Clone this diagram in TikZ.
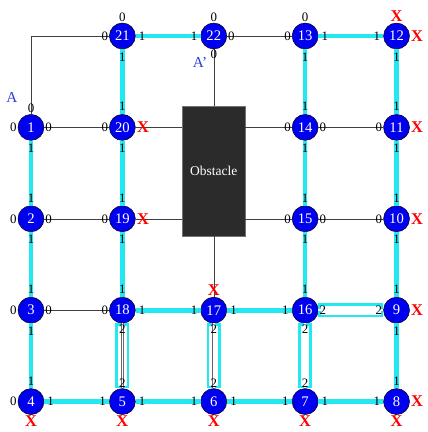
\documentclass[tikz,border=0pt]{standalone}
\usepackage{fontspec}
\setmainfont{Liberation Serif}
\usetikzlibrary{positioning}
\definecolor{nodeblue}{HTML}{0000F0}
\definecolor{pathcyan}{HTML}{22E8F2}
\definecolor{obsgray}{HTML}{2B2B2B}
\definecolor{tagblue}{HTML}{2A3BD6}
\tikzset{
  gridnode/.style={circle,draw=black,fill=nodeblue,text=white,minimum size=7.8mm,inner sep=0pt,font=\fontsize{12.5}{13}\selectfont},
  obsbox/.style={draw=black!55,fill=obsgray,text=white,minimum width=18.9mm,minimum height=39mm,font=\fontsize{11.5}{13}\selectfont},
  plainedge/.style={draw=black!75,thin},
  pathedge/.style={draw=pathcyan,line width=1.4mm},
  dbledge/.style={preaction={draw=pathcyan,line width=4.2mm},
    preaction={draw=white,line width=2.6mm,shorten <=0.8mm,shorten >=0.8mm},
    draw=black!60,double=white,double distance=0.5mm,thin},
  wt/.style={font=\fontsize{11}{12}\selectfont,inner sep=0.8pt},
  lblR/.style={wt,anchor=west},
  lblL/.style={wt,anchor=east},
  lblB/.style={wt,anchor=north},
  lblT/.style={wt,anchor=south},
  xlbl/.style={text=red,font=\fontsize{14}{15}\selectfont\bfseries,inner sep=1pt},
  tag/.style={text=tagblue,font=\fontsize{13}{14}\selectfont},
}
\begin{document}
\begin{tikzpicture}[x=2.742cm,y=-2.742cm]
  \useasboundingbox (-0.339,-0.394) rectangle (4.344,4.333);
  % grid nodes
  \node[gridnode,label={[wt]above:0}] (n21) at (1,0) {21};
  \node[gridnode,label={[wt]above:0}] (n22) at (2,0) {22};
  \node[gridnode,label={[wt]above:0}] (n13) at (3,0) {13};
  \node[gridnode,label={[xlbl]above:X},label={[xlbl]right:X}] (n12) at (4,0) {12};
  \node[gridnode,label={[wt]left:0}] (n1) at (0,1) {1};
  \node[gridnode] (n20) at (1,1) {20};
  \node[gridnode] (n14) at (3,1) {14};
  \node[gridnode,label={[xlbl]right:X}] (n11) at (4,1) {11};
  \node[gridnode,label={[wt]left:0}] (n2) at (0,2) {2};
  \node[gridnode] (n19) at (1,2) {19};
  \node[gridnode] (n15) at (3,2) {15};
  \node[gridnode,label={[xlbl]right:X}] (n10) at (4,2) {10};
  \node[gridnode,label={[wt]left:0}] (n3) at (0,3) {3};
  \node[gridnode] (n18) at (1,3) {18};
  \node[gridnode] (n17) at (2,3) {17};
  \node[gridnode] (n16) at (3,3) {16};
  \node[gridnode,label={[xlbl]right:X}] (n9) at (4,3) {9};
  \node[gridnode,label={[wt]left:0},label={[xlbl]below:X}] (n4) at (0,4) {4};
  \node[gridnode,label={[xlbl]below:X}] (n5) at (1,4) {5};
  \node[gridnode,label={[xlbl]below:X}] (n6) at (2,4) {6};
  \node[gridnode,label={[xlbl]below:X}] (n7) at (3,4) {7};
  \node[gridnode,label={[xlbl]right:X},label={[xlbl]below:X}] (n8) at (4,4) {8};
  \node[obsbox] (obs) at (2,1.48) {Obstacle};
  \coordinate (cA) at (0,0);
  \node[tag] (tagA) at (-0.21,0.67) {A};
  \node[tag] (tagAp) at (1.85,0.29) {A'};
  % horizontal edges
  \draw[plainedge] (n1) -- node[at start,lblT]{0} (cA) -- node[at end,lblL]{0} (n21);
  \draw[pathedge] (n21) -- node[at start,lblR]{1} node[at end,lblL]{1} (n22);
  \draw[plainedge] (n22) -- node[at start,lblR]{0} node[at end,lblL]{0} (n13);
  \draw[pathedge] (n13) -- node[at start,lblR]{1} node[at end,lblL]{1} (n12);
  \draw[plainedge] (n1) -- node[at start,lblR]{0} node[at end,lblL]{0} (n20);
  \draw[plainedge] (n20) -- node[at start,anchor=west,xlbl]{X} (obs.west |- n20);
  \draw[plainedge] (obs.east |- n14) -- node[at end,lblL]{0} (n14);
  \draw[plainedge] (n14) -- node[at start,lblR]{0} node[at end,lblL]{0} (n11);
  \draw[plainedge] (n2) -- node[at start,lblR]{0} node[at end,lblL]{0} (n19);
  \draw[plainedge] (n19) -- node[at start,anchor=west,xlbl]{X} (obs.west |- n19);
  \draw[plainedge] (obs.east |- n15) -- node[at end,lblL]{0} (n15);
  \draw[plainedge] (n15) -- node[at start,lblR]{0} node[at end,lblL]{0} (n10);
  \draw[plainedge] (n3) -- node[at start,lblR]{0} node[at end,lblL]{0} (n18);
  \draw[pathedge] (n18) -- node[at start,lblR]{1} node[at end,lblL]{1} (n17);
  \draw[pathedge] (n17) -- node[at start,lblR]{1} node[at end,lblL]{1} (n16);
  \draw[dbledge] (n16) -- node[at start,lblR]{2} node[at end,lblL]{2} (n9);
  \draw[pathedge] (n4) -- node[at start,lblR]{1} node[at end,lblL]{1} (n5);
  \draw[pathedge] (n5) -- node[at start,lblR]{1} node[at end,lblL]{1} (n6);
  \draw[pathedge] (n6) -- node[at start,lblR]{1} node[at end,lblL]{1} (n7);
  \draw[pathedge] (n7) -- node[at start,lblR]{1} node[at end,lblL]{1} (n8);
  % vertical edges
  \draw[pathedge] (n1) -- node[at start,lblB]{1} node[at end,lblT]{1} (n2);
  \draw[pathedge] (n2) -- node[at start,lblB]{1} node[at end,lblT]{1} (n3);
  \draw[pathedge] (n3) -- node[at start,lblB]{1} node[at end,lblT]{1} (n4);
  \draw[pathedge] (n21) -- node[at start,lblB]{1} node[at end,lblT]{1} (n20);
  \draw[pathedge] (n20) -- node[at start,lblB]{1} node[at end,lblT]{1} (n19);
  \draw[pathedge] (n19) -- node[at start,lblB]{1} node[at end,lblT]{1} (n18);
  \draw[dbledge] (n18) -- node[at start,lblB]{2} node[at end,lblT]{2} (n5);
  \draw[plainedge] (n22) -- node[at start,lblB]{0} (obs.north);
  \draw[plainedge] (obs.south) -- node[at end,anchor=south,xlbl]{X} (n17);
  \draw[dbledge] (n17) -- node[at start,lblB]{2} node[at end,lblT]{2} (n6);
  \draw[pathedge] (n13) -- node[at start,lblB]{1} node[at end,lblT]{1} (n14);
  \draw[pathedge] (n14) -- node[at start,lblB]{1} node[at end,lblT]{1} (n15);
  \draw[pathedge] (n15) -- node[at start,lblB]{1} node[at end,lblT]{1} (n16);
  \draw[dbledge] (n16) -- node[at start,lblB]{2} node[at end,lblT]{2} (n7);
  \draw[pathedge] (n12) -- node[at start,lblB]{1} node[at end,lblT]{1} (n11);
  \draw[pathedge] (n11) -- node[at start,lblB]{1} node[at end,lblT]{1} (n10);
  \draw[pathedge] (n10) -- node[at start,lblB]{1} node[at end,lblT]{1} (n9);
  \draw[pathedge] (n9) -- node[at start,lblB]{1} node[at end,lblT]{1} (n8);
\end{tikzpicture}
\end{document}
